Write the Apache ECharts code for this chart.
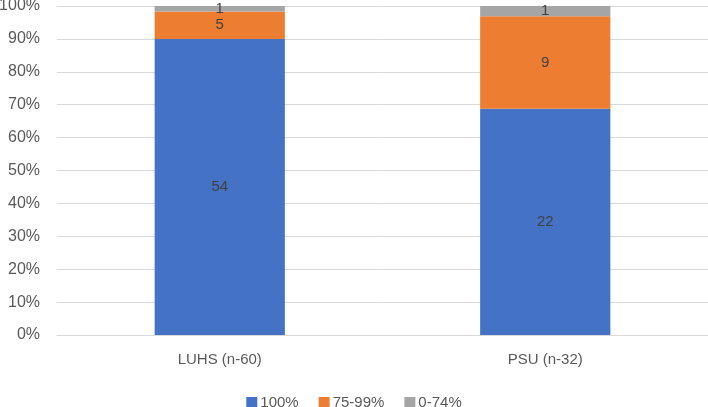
<!DOCTYPE html>
<html>
<head>
<meta charset="utf-8">
<script src="https://cdn.jsdelivr.net/npm/echarts@6/dist/echarts.min.js"></script>
<style>html,body{margin:0;padding:0;background:#fff}#c{width:708px;height:407px}</style>
</head>
<body>
<div id="c"></div>
<script>
const categories = ['LUHS (n-60)', 'PSU (n-32)'];
const seriesNames = ['100%', '75-99%', '0-74%'];
const counts100 = [54, 22];
const counts75 = [5, 9];
const counts0 = [1, 1];
const yTicks = [0, 10, 20, 30, 40, 50, 60, 70, 80, 90, 100];
const colors = ['#4472C4', '#ED7D31', '#A5A5A5'];

const allCounts = [counts100, counts75, counts0];
const totals = categories.map((_, i) => allCounts.reduce((s, a) => s + a[i], 0));

const chart = echarts.init(document.getElementById('c'));
const font = 'Liberation Sans';
chart.setOption({
  animation: false,
  color: colors,
  grid: { left: 57, right: 0, top: 6, bottom: 72, containLabel: false, outerBoundsMode: 'none' },
  legend: {
    top: 390, left: 'center',
    itemWidth: 11, itemHeight: 11, itemGap: 20,
    icon: 'rect',
    textStyle: { color: '#595959', fontSize: 15, fontFamily: font, padding: [0, 0, 0, -2] },
    data: seriesNames
  },
  xAxis: {
    type: 'category', data: categories,
    axisLine: { lineStyle: { color: '#D9D9D9' } },
    axisTick: { show: false },
    axisLabel: { color: '#595959', fontSize: 15, fontFamily: font, margin: 17 }
  },
  yAxis: {
    type: 'value', min: 0, max: 100, interval: 10,
    axisLine: { show: false }, axisTick: { show: false },
    splitLine: { lineStyle: { color: '#D9D9D9', width: 1 } },
    axisLabel: { color: '#595959', fontSize: 16, fontFamily: font, margin: 17,
      formatter: v => yTicks.includes(v) ? v + '%' : '' }
  },
  series: allCounts.map((arr, si) => ({
    name: seriesNames[si], type: 'bar', stack: 'total', barWidth: '40%',
    data: arr.map((c, i) => ({ value: c / totals[i] * 100, count: c })),
    label: {
      show: true, position: 'inside', color: '#404040', fontSize: 15, fontFamily: font,
      formatter: p => String(p.data.count)
    }
  }))
});
</script>
</body>
</html>
